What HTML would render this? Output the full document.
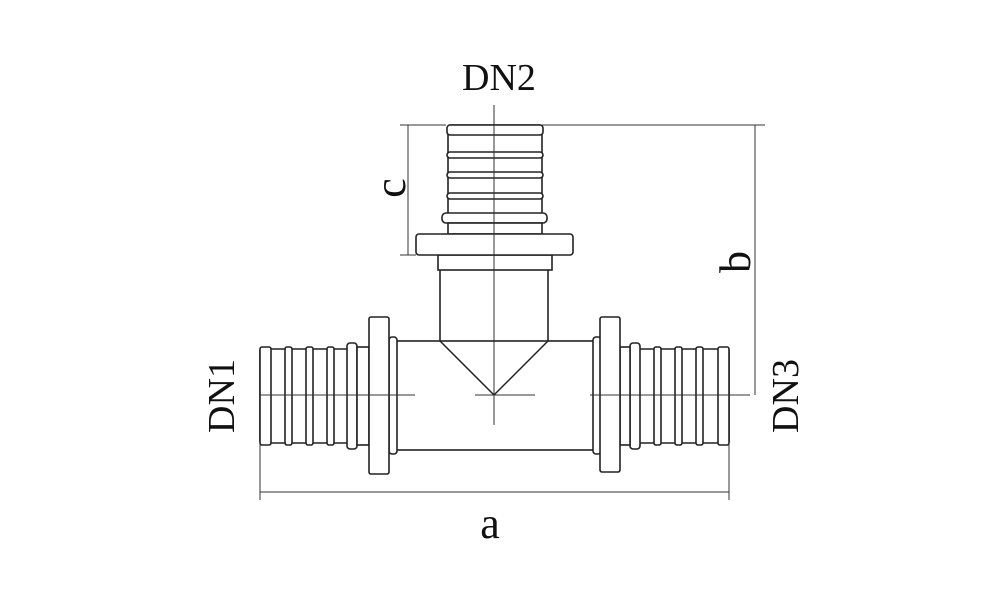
<!DOCTYPE html>
<html><head><meta charset="utf-8"><style>
html,body{margin:0;padding:0;background:#fff;width:1000px;height:600px;overflow:hidden}
svg text{font-family:"Liberation Serif",serif;fill:#111}
</style></head><body>
<svg width="1000" height="600" viewBox="0 0 1000 600" xmlns="http://www.w3.org/2000/svg">
<g fill="#fff" stroke="#222" stroke-width="1.6">
<!-- stem -->
<rect x="440" y="268" width="108" height="80"/>
<!-- main body -->
<rect x="395" y="341" width="200" height="109"/>
<rect x="389" y="337" width="8" height="117" rx="3"/>
<rect x="593" y="337" width="8" height="117" rx="3"/>
<!-- left pipe -->
<rect x="260" y="349" width="95" height="94" rx="2"/>
<rect x="260" y="347" width="11" height="98" rx="2"/>
<rect x="285" y="347" width="7" height="98" rx="2"/>
<rect x="306" y="347" width="7" height="98" rx="2"/>
<rect x="327" y="347" width="7" height="98" rx="2"/>
<rect x="347" y="343" width="10" height="106" rx="3"/>
<rect x="357" y="347" width="12" height="98"/>
<rect x="369" y="317" width="20" height="157" rx="2"/>
<!-- right pipe -->
<rect x="636" y="349" width="93" height="94" rx="2"/>
<rect x="718" y="347" width="11" height="98" rx="2"/>
<rect x="696" y="347" width="7" height="98" rx="2"/>
<rect x="675" y="347" width="7" height="98" rx="2"/>
<rect x="654" y="347" width="7" height="98" rx="2"/>
<rect x="630" y="343" width="10" height="106" rx="3"/>
<rect x="620" y="347" width="10" height="98"/>
<rect x="600" y="317" width="20" height="155" rx="2"/>
<!-- top fitting -->
<rect x="438" y="255" width="114" height="15"/>
<rect x="448" y="125" width="94" height="95" rx="2"/>
<rect x="447" y="125" width="96" height="10" rx="3"/>
<rect x="447" y="152" width="96" height="6" rx="3"/>
<rect x="447" y="172" width="96" height="6" rx="3"/>
<rect x="447" y="193" width="96" height="6" rx="3"/>
<rect x="442" y="213" width="105" height="10" rx="4"/>
<rect x="448" y="223" width="94" height="11"/>
<rect x="416" y="234" width="157" height="21" rx="3"/>
</g>
<g fill="none" stroke="#222" stroke-width="1.5">
<polyline points="440,341 494,395 548,341"/>
</g>
<g stroke="#333" stroke-width="1" fill="none">
<line x1="494" y1="105" x2="494" y2="425"/>
<line x1="260" y1="395" x2="415" y2="395"/>
<line x1="475" y1="395" x2="535" y2="395"/>
<line x1="590" y1="395" x2="750" y2="395"/>
<!-- a -->
<line x1="260" y1="443" x2="260" y2="500"/>
<line x1="729" y1="443" x2="729" y2="500"/>
<line x1="260" y1="492" x2="729" y2="492"/>
<line x1="620" y1="472" x2="620" y2="472"/>
<!-- b -->
<line x1="542" y1="125" x2="765" y2="125"/>
<line x1="755" y1="125" x2="755" y2="395"/>
<!-- c -->
<line x1="400" y1="125" x2="446" y2="125"/>
<line x1="400" y1="255" x2="416" y2="255"/>
<line x1="408" y1="125" x2="408" y2="255"/>
</g>
<text x="499" y="90" font-size="38" text-anchor="middle">DN2</text>
<text x="490" y="538" font-size="44" text-anchor="middle">a</text>
<text transform="translate(405,188) rotate(-90)" font-size="44" text-anchor="middle">c</text>
<text transform="translate(750,262) rotate(-90)" font-size="44" text-anchor="middle">b</text>
<text transform="translate(234,396) rotate(-90)" font-size="38" text-anchor="middle">DN1</text>
<text transform="translate(798,396) rotate(-90)" font-size="38" text-anchor="middle">DN3</text>
</svg>
</body></html>
